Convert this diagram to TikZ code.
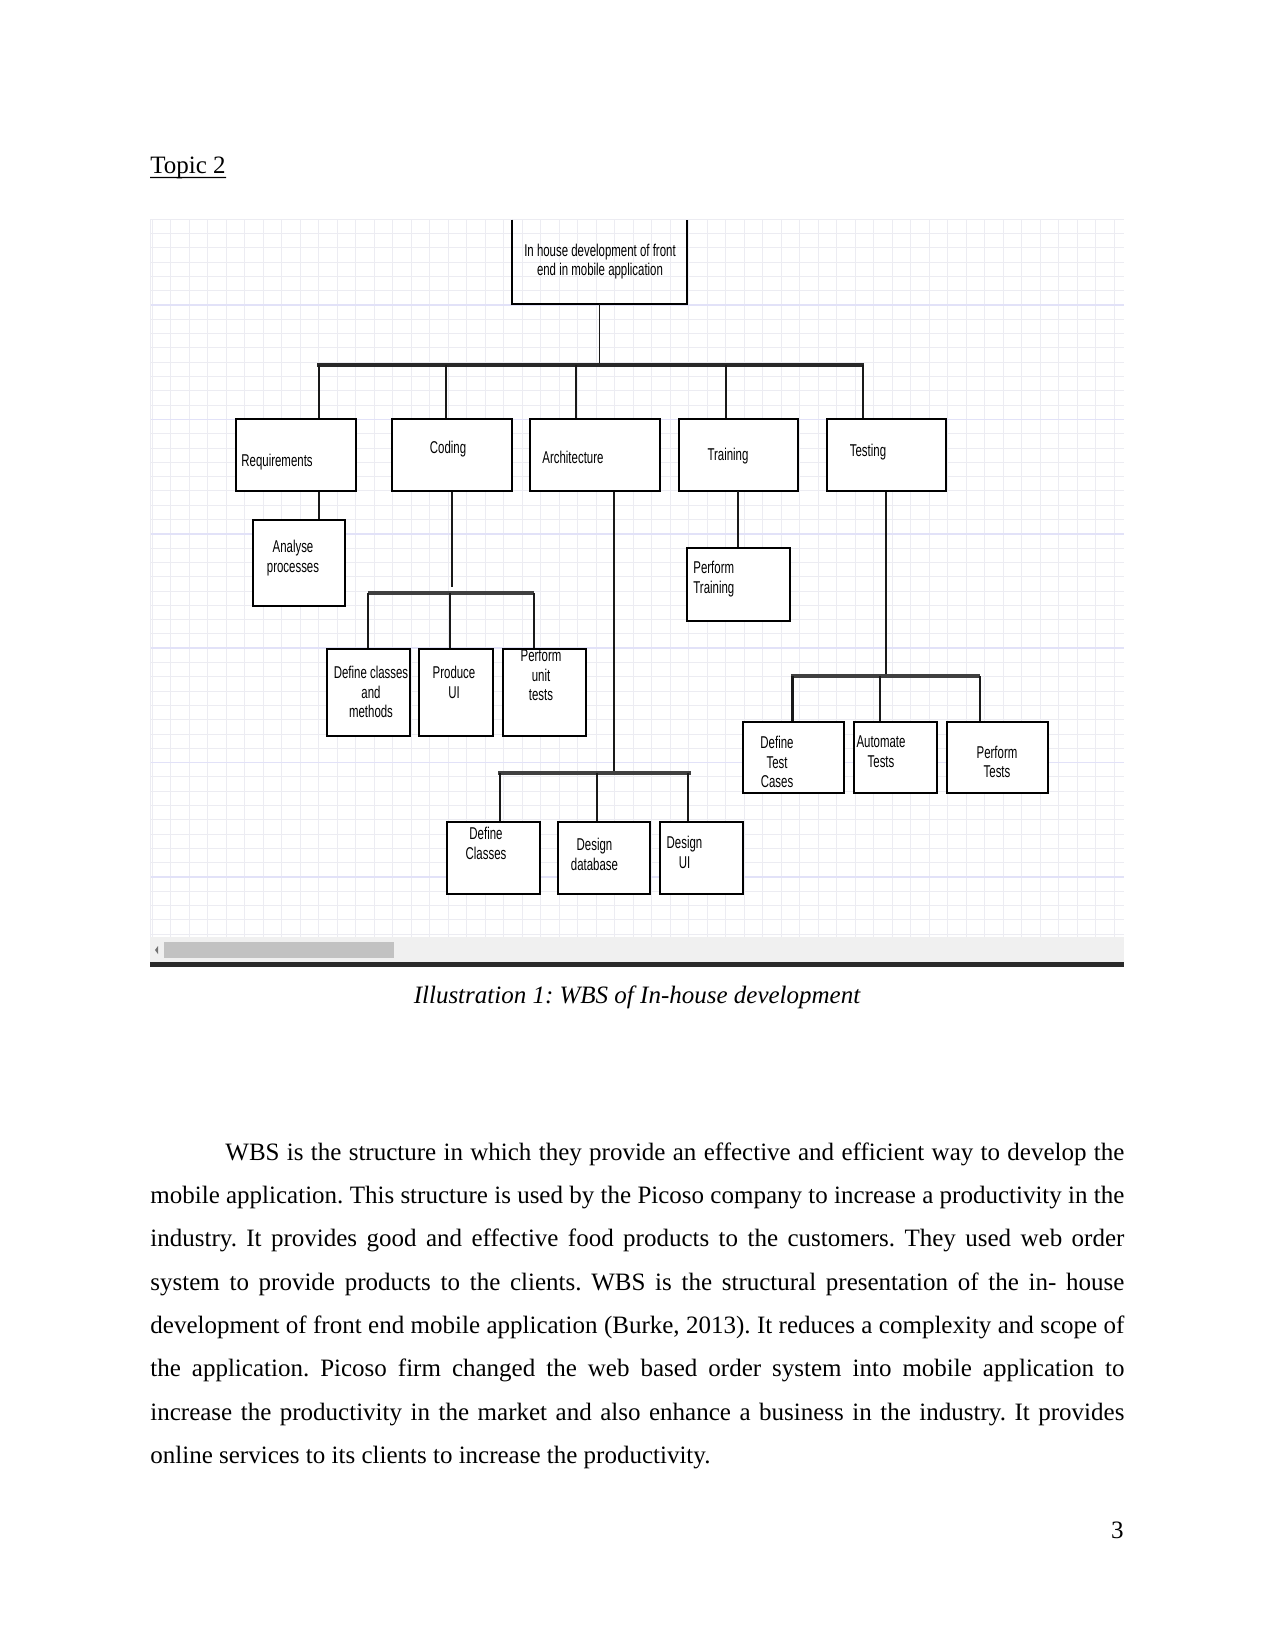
\documentclass[tikz,border=0pt]{standalone}
\usepackage{fontspec}
\setmainfont{Liberation Serif}
\newfontfamily\dia[FakeStretch=0.67]{Liberation Sans}
\usetikzlibrary{fit}
\frenchspacing
\definecolor{gridc}{RGB}{236,236,242}
\definecolor{gridmaj}{RGB}{226,226,248}
\definecolor{busc}{RGB}{40,40,40}
\definecolor{sbarbg}{RGB}{240,240,240}
\definecolor{thumbc}{RGB}{194,194,194}
\definecolor{darkbar}{RGB}{42,42,42}
\tikzset{
  wbox/.style={draw=black, line width=0.9pt, fill=white, inner sep=0pt},
  lbl/.style={font=\dia\fontsize{8.2}{9.5}\selectfont, align=center, inner sep=0pt, text=black},
  lbll/.style={lbl, align=left},
  conn/.style={line width=1pt, draw=black!90},
  bus/.style={line width=2pt, draw=busc},
  sbus/.style={line width=1.7pt, draw=black!75},
  body/.style={font=\fontsize{12}{14}\selectfont, inner sep=0pt, anchor=base west},
}
\begin{document}
\begin{tikzpicture}[x=0.48pt,y=-0.48pt]
\path[use as bounding box, fill=white] (0,0) rectangle (1275,1650);

% heading
\node[body] (topic) at (150,174) {Topic 2};
\draw[line width=0.6pt] (topic.base west) ++(0,3.5) -- ([yshift=-1.7pt]topic.base east);

% grid background
\begin{scope}
\clip (150,220) rectangle (1124,937);
\foreach \k in {0,...,52} \draw[gridc, line width=0.45pt] ({152+18.5*\k},220) -- ({152+18.5*\k},937);
\foreach \k in {-6,...,44} \draw[gridc, line width=0.45pt] (150,{305+14.3*\k}) -- (1124,{305+14.3*\k});
\foreach \k in {0,8,16,24,32,40} \draw[gridmaj, line width=0.7pt] (150,{305+14.3*\k}) -- (1124,{305+14.3*\k});
\draw[gridc, line width=0.8pt] (150.5,220) -- (150.5,937);
\end{scope}

% scroll bar
\fill[sbarbg] (150,937) rectangle (1124,962);
\fill[thumbc] (164,942) rectangle (394,958);
\fill[black!55] (158,946) -- (155,950) -- (158,954) -- cycle;
\fill[darkbar] (150,962) rectangle (1124,967);

% root
\node[inner sep=0pt, fit={(512,220)(687,304)}] (root) {};
\draw[line width=0.9pt] (root.north west) -- (root.south west) -- (root.south east) -- (root.north east);
\node[lbl] (troot) at (600,261.5) {In house development of front\\end in mobile application};

% level 1 boxes
\node[wbox, fit={(236,419)(356,491)}] (req) {};
\node[wbox, fit={(392,419)(512,491)}] (cod) {};
\node[wbox, fit={(530,419)(660,491)}] (arc) {};
\node[wbox, fit={(679,419)(798,491)}] (trn) {};
\node[wbox, fit={(827,419)(946,491)}] (tst) {};

% lower boxes
\node[wbox, fit={(253,520)(345,606)}] (ana) {};
\node[wbox, fit={(327,649)(410,736)}] (dcm) {};
\node[wbox, fit={(419,649)(493,736)}] (pui) {};
\node[wbox, fit={(503,649)(586,736)}] (put) {};
\node[wbox, fit={(687,548)(790,621)}] (ptr) {};
\node[wbox, fit={(447,822)(540,894)}] (dcl) {};
\node[wbox, fit={(558,822)(650,894)}] (ddb) {};
\node[wbox, fit={(660,822)(743,894)}] (dui) {};
\node[wbox, fit={(743,722)(844,793)}] (dtc) {};
\node[wbox, fit={(854,722)(937,793)}] (aut) {};
\node[wbox, fit={(947,722)(1048,793)}] (pte) {};

% main bus
\coordinate (b1l) at (317,365);
\coordinate (b1r) at (864,365);
\draw[conn, line width=0.7pt] (root.south) -- (root.south |- b1l);
\draw[bus] (b1l) -- (b1r);
\coordinate (d1) at (319,365);
\coordinate (d2) at (446,365);
\coordinate (d3) at (576,365);
\coordinate (d4) at (726,365);
\coordinate (d5) at (863,365);
\draw[conn] (d1) -- (d1 |- req.north);
\draw[conn] (d2) -- (d2 |- cod.north);
\draw[conn] (d3) -- (d3 |- arc.north);
\draw[conn] (d4) -- (d4 |- trn.north);
\draw[conn] (d5) -- (d5 |- tst.north);

% requirements -> analyse
\draw[conn] (req.south -| d1) -- (d1 |- ana.north);

% coding branch
\coordinate (cv) at (452,587);
\draw[conn] (cod.south -| cv) -- (cv);
\coordinate (c1) at (368,593);
\coordinate (c2) at (450,593);
\coordinate (c3) at (534,593);
\draw[sbus] (c1) -- (c3);
\draw[conn] (c1) -- (c1 |- dcm.north);
\draw[conn] (c2) -- (c2 |- pui.north);
\draw[conn] (c3) -- (c3 |- put.north);

% architecture branch
\coordinate (av) at (614,773);
\draw[conn] (arc.south -| av) -- (av);
\coordinate (a0) at (498,773);
\coordinate (a1) at (500,773);
\coordinate (a2) at (597,773);
\coordinate (a3) at (688,773);
\coordinate (a4) at (691,773);
\draw[sbus] (a0) -- (a4);
\draw[conn] (a1) -- (a1 |- dcl.north);
\draw[conn] (a2) -- (a2 |- ddb.north);
\draw[conn] (a3) -- (a3 |- dui.north);

% training branch
\coordinate (tv) at (738,491);
\draw[conn] (tv) -- (tv |- ptr.north);

% testing branch
\coordinate (sv) at (886,678);
\draw[conn] (tst.south -| sv) -- (sv);
\coordinate (s0) at (791,676);
\coordinate (s1) at (792.5,676);
\coordinate (s2) at (880,676);
\coordinate (s3) at (980,676);
\draw[sbus] (s0) -- (s3);
\draw[conn] (s1) -- (s1 |- dtc.north);
\draw[conn] (s2) -- (s2 |- aut.north);
\draw[conn] (s3) -- (s3 |- pte.north);

% labels
\node[lbl, anchor=west] (treq) at (241,462) {Requirements};
\node[lbl] (tcod) at (448,449) {Coding};
\node[lbl, anchor=west] (tarc) at (542,457) {Architecture};
\node[lbl] (ttrn) at (728,456) {Training};
\node[lbl] (ttst) at (868,452) {Testing};
\node[lbl] (tana) at (293,558) {Analyse\\processes};
\node[lbl] (tdcm) at (371,692) {Define classes\\and\\methods};
\node[lbl] (tpui) at (454,682) {Produce\\UI};
\node[lbl] (tput) at (541,675) {Perform\\unit\\tests};
\node[lbll, anchor=west] (tptr) at (693,579) {Perform\\Training};
\node[lbl] (tdcl) at (486,843) {Define\\Classes};
\node[lbl] (tddb) at (594.5,854) {Design\\database};
\node[lbl] (tdui) at (684.5,852) {Design\\UI};
\node[lbl] (tdtc) at (777,762) {Define\\Test\\Cases};
\node[lbl] (taut) at (881,752) {Automate\\Tests};
\node[lbl] (tpte) at (997,762) {Perform\\Tests};

% caption
\node[body, anchor=base, font=\fontsize{12}{14}\selectfont\itshape] (cap) at (637,1003) {Illustration 1: WBS of In-house development};

% paragraph
\node[body] (p1) at (225,1160) {\makebox[431.5pt][s]{WBS is the structure in which they provide an effective and efficient way to develop the}};
\node[body] (p2) at (150,1203.3) {\makebox[467.5pt][s]{mobile application. This structure is used by the Picoso company to increase a productivity in the}};
\node[body] (p3) at (150,1246.7) {\makebox[467.5pt][s]{industry. It provides good and effective food products to the customers. They used web order}};
\node[body] (p4) at (150,1290) {\makebox[467.5pt][s]{system to provide products to the clients. WBS is the structural presentation of the in- house}};
\node[body] (p5) at (150,1333.3) {\makebox[467.5pt][s]{development of front end mobile application (Burke, 2013). It reduces a complexity and scope of}};
\node[body] (p6) at (150,1376.7) {\makebox[467.5pt][s]{the application. Picoso firm changed the web based order system into mobile application to}};
\node[body] (p7) at (150,1420) {\makebox[467.5pt][s]{increase the productivity in the market and also enhance a business in the industry. It provides}};
\node[body] (p8) at (150,1463.3) {online services to its clients to increase the productivity.};

% page number
\node[body, anchor=base east] (pg) at (1124,1538) {3};
\end{tikzpicture}
\end{document}
